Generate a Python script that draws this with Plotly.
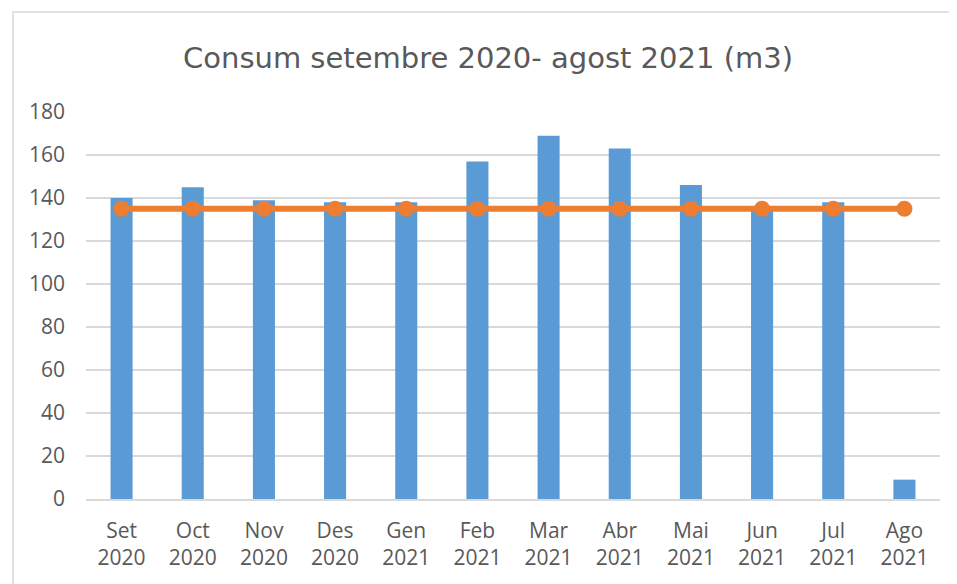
import plotly.graph_objects as go

categories = ["Set<br>2020", "Oct<br>2020", "Nov<br>2020", "Des<br>2020", "Gen<br>2021", "Feb<br>2021",
              "Mar<br>2021", "Abr<br>2021", "Mai<br>2021", "Jun<br>2021", "Jul<br>2021", "Ago<br>2021"]
consum = [140, 145, 139, 138, 138, 157, 169, 163, 146, 135, 138, 9]
mitjana = [135, 135, 135, 135, 135, 135, 135, 135, 135, 135, 135, 135]
y_ticks = [0, 20, 40, 60, 80, 100, 120, 140, 160, 180]

# page body adds an 8px offset; figure coordinates account for it
W, H = 957, 584
L, R, T, B = 78, 25, 104, 93
pw, ph = W - L - R, H - T - B

fig = go.Figure()
fig.add_trace(go.Bar(x=categories, y=consum, marker=dict(color="#5B9BD5", line=dict(width=0)),
                     name="Consum", showlegend=False))
fig.add_trace(go.Scatter(x=categories, y=mitjana, mode="lines+markers",
                         line=dict(color="#ED7D31", width=6),
                         marker=dict(color="#ED7D31", size=16),
                         name="Mitjana", showlegend=False))

font_family = "Open Sans, Lato, sans-serif"
fig.update_layout(
    width=W, height=H,
    margin=dict(l=L, r=R, t=T, b=B),
    paper_bgcolor="white", plot_bgcolor="white",
    bargap=0.69,
    title=dict(text="Consum setembre 2020- agost 2021 (m3)", xref="container", x=480 / W, xanchor="center",
               y=1 - 50 / H, yanchor="middle",
               font=dict(family="DejaVu Sans, sans-serif", size=29, color="#595959")),
    font=dict(family=font_family, size=21, color="#595959"),
    xaxis=dict(showgrid=False, showline=True, linecolor="#D9D9D9", linewidth=1.5,
               range=[-0.5, len(categories) - 0.5], autorange=False,
               ticks="", ticklabelstandoff=12, tickfont=dict(size=21, color="#595959")),
    yaxis=dict(range=[0, 180], tickvals=y_ticks, showgrid=True, gridcolor="#D9D9D9", gridwidth=1.5,
               zeroline=False, showline=False, ticks="", ticklabelstandoff=20,
               tickfont=dict(size=21, color="#595959")),
    shapes=[dict(type="rect", xref="paper", yref="paper",
                 x0=(5 - L) / pw, x1=(W + 5 - L) / pw,
                 y0=(ph - (H + 5 - T)) / ph, y1=(ph - (4 - T)) / ph,
                 line=dict(color="#D9D9D9", width=1.5), fillcolor="rgba(0,0,0,0)", layer="below")],
)

fig.write_html("out.html")
